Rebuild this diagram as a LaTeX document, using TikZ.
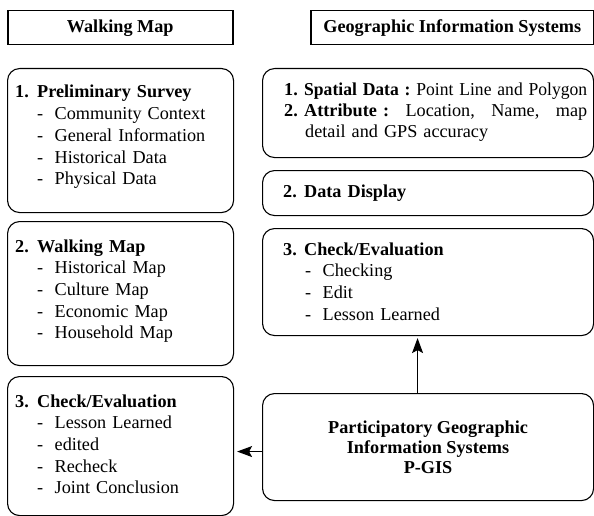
\documentclass[tikz,border=0pt]{standalone}
\usepackage{graphicx}
\usepackage{fontspec}
\setmainfont{Liberation Serif}
\usetikzlibrary{arrows.meta}
\frenchspacing
\newcommand{\muc}[2][22pt]{\makebox[#1][l]{\textbf{#2}}}
\newcommand{\gach}{\hspace*{22pt}\makebox[17.5pt][l]{-}}
\begin{document}
\begin{tikzpicture}[x=1pt, y=-1pt, line join=round, line cap=round,
	font=\fontsize{18.2}{21.7}\selectfont, >={Stealth[length=15pt,width=11pt,inset=3pt]},
	khung/.style={draw, line width=1.1pt, rounded corners=12pt, anchor=north west, inner sep=0pt},
	tieude/.style={draw, line width=1.5pt, line join=miter, anchor=north west, inner sep=0pt, font=\fontsize{18.2}{21.7}\selectfont\bfseries},
	chu/.style={anchor=base west, inner sep=0pt, align=left, text width=330pt}]
	\def\a{7} % cột trái
	\def\b{262} % cột phải
	\useasboundingbox (0,0) rectangle (594,516);
	% cột trái
	\node[tieude, minimum width=225pt, minimum height=34pt] (walk) at (\a,10) {Walking Map};
	\node[khung, minimum width=226pt, minimum height=144pt] (survey) at (\a,68) {};
	\node[khung, minimum width=226pt, minimum height=144pt] (wmap) at (\a,221) {};
	\node[khung, minimum width=226pt, minimum height=139pt] (lcheck) at (\a,376) {};
	\node[chu] (survey-t) at ([shift={(8,30)}]survey.north west)
		{\muc{1.}\textbf{Preliminary Survey}\\ \gach Community Context\\ \gach General Information\\ \gach Historical Data\\ \gach Physical Data};
	\node[chu] (wmap-t) at ([shift={(8,31)}]wmap.north west)
		{\muc{2.}\textbf{Walking Map}\\ \gach Historical Map\\ \gach Culture Map\\ \gach Economic Map\\ \gach Household Map};
	\node[chu] (lcheck-t) at ([shift={(8,31)}]lcheck.north west)
		{\muc{3.}\textbf{Check/Evaluation}\\ \gach Lesson Learned\\ \gach edited\\ \gach Recheck\\ \gach Joint Conclusion};
	% cột phải
	\node[tieude, minimum width=283pt, minimum height=34pt] (gis) at (310,10) {Geographic Information Systems};
	\node[khung, minimum width=331pt, minimum height=89pt] (spatial) at (\b,68) {};
	\node[khung, minimum width=331pt, minimum height=45pt] (display) at (\b,170) {};
	\node[khung, minimum width=331pt, minimum height=107pt] (rcheck) at (\b,228) {};
	\node[khung, minimum width=331pt, minimum height=107pt] (pgis) at (\b,393) {};
	\node[chu, font=\fontsize{18.2}{20.7}\selectfont] (spatial-t) at ([shift={(22,28)}]spatial.north west)
		{\muc[20pt]{1.}\resizebox{283pt}{\height}{\textbf{Spatial Data :} Point Line and Polygon}\\
		\muc[20pt]{2.}\hbox to 283pt{\textbf{Attribute :}\hfill Location,\hfill Name,\hfill map}\\
		\hspace*{21pt}detail and GPS accuracy};
	\node[chu] (display-t) at ([shift={(21,27)}]display.north west) {\muc[21pt]{2.}\textbf{Data Display}};
	\node[chu] (rcheck-t) at ([shift={(21,27)}]rcheck.north west)
		{\muc[21pt]{3.}\textbf{Check/Evaluation}\\ \gach Checking\\ \gach Edit\\ \gach Lesson Learned};
	\node[align=center, inner sep=0pt, font=\fontsize{18.2}{20}\selectfont\bfseries] (pgis-t) at (pgis.center)
		{Participatory Geographic\\Information Systems\\P-GIS};
	% mũi tên
	\draw[->, line width=1.1pt, shorten >=3pt] ([yshift=-4.5pt]pgis.west) -- ([yshift=-4.5pt]pgis.west -| lcheck.east);
	\draw[->, line width=1.1pt, shorten >=2pt] ([xshift=-10.5pt]pgis.north) -- ([xshift=-10.5pt]rcheck.south);
\end{tikzpicture}
\end{document}
